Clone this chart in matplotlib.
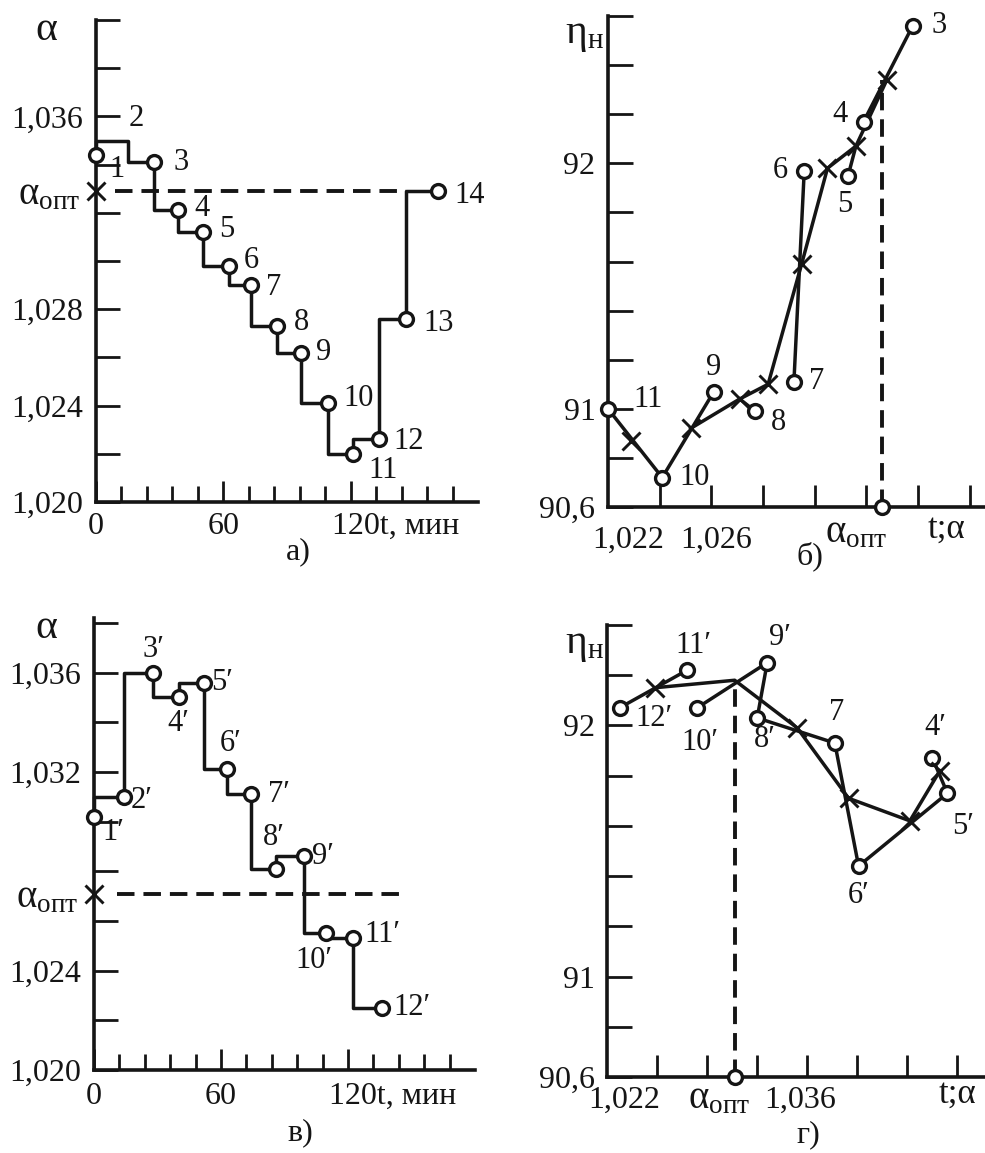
import matplotlib
matplotlib.use("Agg")
import matplotlib.pyplot as plt
import numpy as np

plt.rcParams["font.family"] = ["Liberation Serif", "DejaVu Serif"]
plt.rcParams["mathtext.fontset"] = "custom"
plt.rcParams["mathtext.rm"] = "Liberation Serif"
plt.rcParams["mathtext.it"] = "Liberation Serif:italic"

INK = "#151515"

# ---- а) alpha over time, first run
t_a = [0, 15, 27.5, 38.5, 50.5, 62.5, 73, 85.5, 96.5, 109.5, 121, 133.5, 146, 161]
alpha_a = [1.0344, 1.0350, 1.0341, 1.0321, 1.0312, 1.0298, 1.0290,
           1.0273, 1.0262, 1.0241, 1.0220, 1.0226, 1.0276, 1.0329]
labels_a = ["1", "2", "3", "4", "5", "6", "7", "8", "9", "10", "11", "12", "13", "14"]
alpha_opt_a = 1.0329

# ---- в) alpha over time, second run
t_v = [0, 14, 28, 40, 52, 63, 74, 86, 99, 109.5, 122.5, 136]
alpha_v = [1.0302, 1.0310, 1.0360, 1.0350, 1.0356, 1.0321, 1.0311,
           1.0281, 1.0286, 1.0255, 1.0253, 1.0225]
labels_v = ["1′", "2′", "3′", "4′", "5′", "6′", "7′", "8′", "9′", "10′", "11′", "12′"]
alpha_opt_v = 1.0271

# ---- б) efficiency vs alpha, first run (circles = measured, crosses = averaged)
labels_b = ["3", "4", "5", "6", "7", "8", "9", "10", "11"]
alpha_b = [1.0338, 1.0319, 1.0313, 1.0296, 1.0292, 1.0277, 1.0261, 1.0241, 1.0220]
eta_b = [92.56, 92.17, 91.95, 91.97, 91.11, 90.99, 91.07, 90.72, 91.00]
cross_alpha_b = [1.0328, 1.0316, 1.0305, 1.0295, 1.0282, 1.0271, 1.0252, 1.0229]
cross_eta_b = [92.34, 92.07, 91.98, 91.59, 91.10, 91.04, 90.92, 90.87]
alpha_opt_b = 1.0326

# ---- г) efficiency vs alpha, second run
labels_g = ["4′", "5′", "6′", "7", "8′", "9′", "10′", "11′", "12′"]
alpha_g = [1.0350, 1.0356, 1.03205, 1.0311, 1.0280, 1.0284, 1.0256, 1.0252, 1.0225]
eta_g = [91.87, 91.73, 91.44, 91.93, 92.03, 92.25, 92.07, 92.22, 92.07]
cross_alpha_g = [1.0353, 1.0341, 1.03165, 1.0296, 1.0271, 1.0239]
cross_eta_g = [91.82, 91.62, 91.71, 91.99, 92.18, 92.15]
alpha_opt_g = 1.0271

# label offsets (pixels) - styling only
off_a = [(21, -15), (8, 22), (27, 0), (24, 2), (24, 3), (23, 5), (23, -2),
         (24, 4), (23, 0), (30, 5), (30, -17), (29, -2), (33, -5), (32, -4)]
off_v = [(19, -16), (18, -4), (0, 23), (0, -26), (18, 0), (3, 26), (28, 0),
         (-2, 31), (19, 0), (-12, -27), (29, 4), (30, 0)]
off_b = [(26, 0), (-24, 7), (-3, -29), (-24, 0), (23, 0), (23, -11), (0, 24), (32, 0), (40, 9)]
off_g = [(3, 31), (16, -33), (0, -29), (2, 31), (8, -22), (13, 25), (3, -35), (6, 25), (34, -11)]

W, H = 985, 1153
fig = plt.figure(figsize=(W / 100, H / 100), dpi=100, facecolor="white")


def box(left, right, top, bottom):
    return [left / W, 1 - bottom / H, (right - left) / W, (bottom - top) / H]


ax_a = fig.add_axes(box(96, 478, 20, 502))
ax_b = fig.add_axes(box(608, 985, 16, 507))
ax_v = fig.add_axes(box(94, 475, 618, 1070))
ax_g = fig.add_axes(box(607, 985, 625, 1077))

LW = 2.5
circ = dict(marker="o", ms=10, mfc="white", mec=INK, mew=2.4, ls="none", zorder=5, clip_on=False)
cross = dict(marker="x", ms=12.5, mec=INK, mew=2.1, ls="none", zorder=6, clip_on=False)
dash = dict(color=INK, lw=2.8, ls=(0, (4.5, 2.3)), clip_on=False)
OPT = r"$\mathrm{\alpha}_{\mathrm{опт}}$"


def style(ax, xlen, ylen):
    for s in ("top", "right"):
        ax.spines[s].set_visible(False)
    for s in ("left", "bottom"):
        ax.spines[s].set_linewidth(2.6)
        ax.spines[s].set_color(INK)
    ax.set_facecolor("none")
    ax.tick_params(axis="y", which="both", direction="in", length=ylen, width=2.0,
                   color=INK, labelsize=23, labelcolor=INK, pad=9)
    ax.tick_params(axis="x", which="major", direction="in", length=xlen, width=2.0,
                   color=INK, labelbottom=False)
    ax.tick_params(axis="x", which="minor", direction="in", length=xlen * 0.75, width=2.0,
                   color=INK)


def comma(v, nd):
    return f"{v:.{nd}f}".replace(".", ",")


def xlabel(ax, x, text, dy, ha="center", size=23):
    ax.annotate(text, (x, 0), xycoords=ax.get_xaxis_transform(), xytext=(0, dy),
                textcoords="offset pixels", ha=ha, va="center", fontsize=size,
                color=INK, annotation_clip=False)


def opt_ylabel(ax, y):
    ax.plot([0], [y], **cross)
    ax.annotate(OPT, (0, y), xycoords=("axes fraction", "data"),
                xytext=(-16, -4), textcoords="offset pixels", ha="right", va="center",
                fontsize=28, color=INK, annotation_clip=False)


def label_points(ax, xs, ys, labels, offs):
    for x, y, lab, (dx, dy) in zip(xs, ys, labels, offs):
        ax.annotate(lab, (x, y), xytext=(dx, dy), textcoords="offset pixels",
                    ha="center", va="center", fontsize=22, color=INK,
                    annotation_clip=False)


# ================= а) =================
ax = ax_a
style(ax, 15, 17)
ax.set_xlim(0, 180)
ax.set_ylim(1.020, 1.040)
ax.step(t_a, alpha_a, where="pre", color=INK, lw=LW, clip_on=False, zorder=3)
keep = [i for i, l in enumerate(labels_a) if l != "2"]
ax.plot([t_a[i] for i in keep], [alpha_a[i] for i in keep], **circ)
label_points(ax, t_a, alpha_a, labels_a, off_a)
ax.plot([9, t_a[12]], [alpha_opt_a, alpha_opt_a], **dash)
opt_ylabel(ax, alpha_opt_a)
yt = np.round(np.arange(1.020, 1.0401, 0.002), 3)
ax.set_yticks(yt, [comma(v, 3) if v in (1.020, 1.024, 1.028, 1.036) else "" for v in yt])
ax.set_xticks([0, 60, 120])
ax.set_xticks(np.arange(0, 180, 12), minor=True)
xlabel(ax, 0, "0", -24)
xlabel(ax, 60, "60", -24)
xlabel(ax, 111, "120t, мин", -24, ha="left")

# ================= в) =================
ax = ax_v
style(ax, 15, 17)
ax.set_xlim(0, 180)
ax.set_ylim(1.020, 1.0382)
ax.step(t_v, alpha_v, where="pre", color=INK, lw=LW, clip_on=False, zorder=3)
ax.plot(t_v, alpha_v, **circ)
label_points(ax, t_v, alpha_v, labels_v, off_v)
ax.plot([11, 145], [alpha_opt_v, alpha_opt_v], **dash)
opt_ylabel(ax, alpha_opt_v)
yt = np.round(np.arange(1.020, 1.0381, 0.002), 3)
ax.set_yticks(yt, [comma(v, 3) if v in (1.020, 1.024, 1.032, 1.036) else "" for v in yt])
ax.set_xticks([0, 60, 120])
ax.set_xticks(np.arange(0, 180, 12), minor=True)
xlabel(ax, 0, "0", -26)
xlabel(ax, 60, "60", -26)
xlabel(ax, 111, "120t, мин", -26, ha="left")


def network(ax, xs, ys, cxs, cys, paths):
    pts = {f"o{i}": (x, y) for i, (x, y) in enumerate(zip(xs, ys))}
    pts.update({f"x{i}": (x, y) for i, (x, y) in enumerate(zip(cxs, cys))})
    for path in paths:
        ax.plot([pts[k][0] for k in path], [pts[k][1] for k in path],
                color=INK, lw=LW, clip_on=False, zorder=3, solid_joinstyle="round")


# ================= б) =================
ax = ax_b
style(ax, 16, 18)
ax.set_xlim(1.022, 1.0366)
ax.set_ylim(90.6, 92.6)
network(ax, alpha_b, eta_b, cross_alpha_b, cross_eta_b, [
    ["o0", "o1"],
    ["x0", "x1", "x2", "x3", "x4", "x5", "x6"],
    ["o2", "x1"],
    ["o3", "o4"],
    ["o5", "x5"],
    ["o6", "o7", "o8"],
])
ax.plot(cross_alpha_b, cross_eta_b, **cross)
ax.plot(alpha_b, eta_b, **circ)
label_points(ax, alpha_b, eta_b, labels_b, off_b)
ax.plot([alpha_opt_b, alpha_opt_b], [90.6, cross_eta_b[0]], **dash)
ax.plot([alpha_opt_b], [90.6], **circ)
yt = np.round(np.arange(90.6, 92.61, 0.2), 1)
ax.set_yticks(yt, [{90.6: "90,6", 91.0: "91", 92.0: "92"}.get(v, "") for v in yt])
ax.set_xticks(np.round(np.arange(1.024, 1.0361, 0.002), 3))
xlabel(ax, 1.0228, "1,022", -33)
xlabel(ax, 1.0262, "1,026", -33)
xlabel(ax, 1.0316, OPT, -26, size=28)
xlabel(ax, 1.0351, "t;α", -22, size=25)

# ================= г) =================
ax = ax_g
style(ax, 16, 18)
ax.set_xlim(1.022, 1.0371)
ax.set_ylim(90.6, 92.4)
network(ax, alpha_g, eta_g, cross_alpha_g, cross_eta_g, [
    ["o0", "o1", "o2", "o3", "o4", "o5", "o6"],
    ["o7", "o8"],
    ["x0", "x1", "x2", "x3", "x4", "x5"],
])
ax.plot([a for i, a in enumerate(cross_alpha_g) if i != 4],
        [e for i, e in enumerate(cross_eta_g) if i != 4], **cross)
ax.plot(alpha_g, eta_g, **circ)
label_points(ax, alpha_g, eta_g, labels_g, off_g)
ax.plot([alpha_opt_g, alpha_opt_g], [90.6, cross_eta_g[4]], **dash)
ax.plot([alpha_opt_g], [90.6], **circ)
yt = np.round(np.arange(90.6, 92.41, 0.2), 1)
ax.set_yticks(yt, [{90.6: "90,6", 91.0: "91", 92.0: "92"}.get(v, "") for v in yt])
ax.set_xticks(np.round(np.arange(1.024, 1.0361, 0.002), 3))
xlabel(ax, 1.0227, "1,022", -23)
xlabel(ax, 1.0265, OPT, -22, size=28)
xlabel(ax, 1.0297, "1,036", -23)
xlabel(ax, 1.0360, "t;α", -17, size=25)


# axis names and panel letters
def ftext(x, y, s, size):
    fig.text(x / W, 1 - y / H, s, ha="center", va="center", fontsize=size, color=INK)


ftext(46, 30, r"$\mathrm{\alpha}$", 30)
ftext(46, 628, r"$\mathrm{\alpha}$", 30)
ftext(584, 35, r"$\mathrm{\eta}_{\mathrm{н}}$", 30)
ftext(584, 645, r"$\mathrm{\eta}_{\mathrm{н}}$", 30)
ftext(298, 552, "а)", 23)
ftext(810, 556, "б)", 23)
ftext(300, 1133, "в)", 23)
ftext(808, 1135, "г)", 23)

fig.savefig("out.png", dpi=100, facecolor="white")
